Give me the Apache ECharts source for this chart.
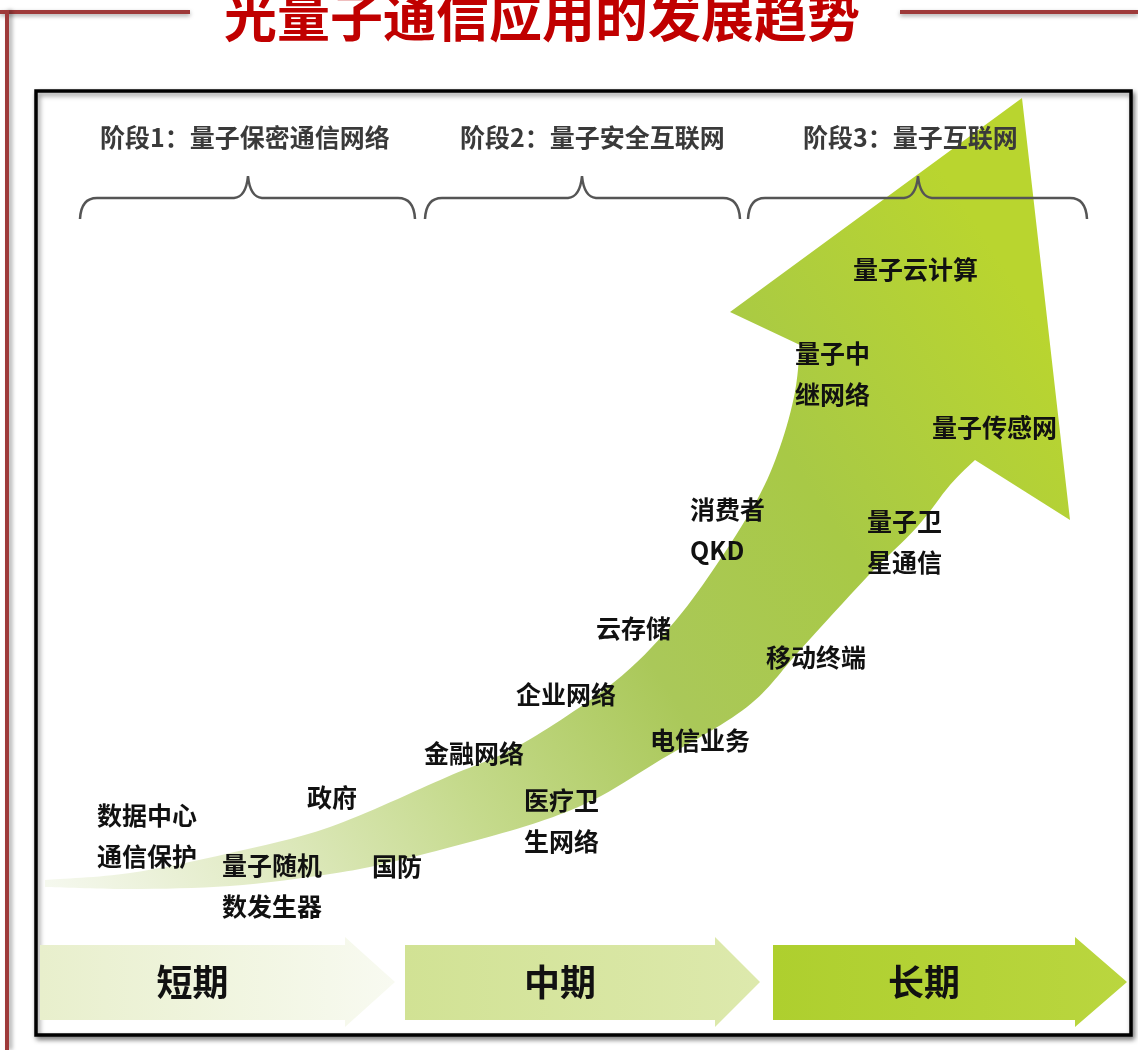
<!DOCTYPE html>
<html>
<head>
<meta charset="utf-8">
<title>光量子通信应用的发展趋势</title>
<script src="https://cdn.jsdelivr.net/npm/echarts@6/dist/echarts.min.js"></script>
<style>
  html, body { margin: 0; padding: 0; background: #fff; }
  #chart { width: 1138px; height: 1050px; }
</style>
</head>
<body>
<div id="chart"></div>
<script>
// 光量子通信应用的发展趋势
// 坐标轴按画面读数：x 向右，y 向下（反向 y 轴）

// 阶段标题与大括号
const stageNames = ['阶段1：量子保密通信网络', '阶段2：量子安全互联网', '阶段3：量子互联网']
const stageX = [100, 460, 803]
const stageY = [137, 137, 137]
const braceLeft = [80, 425, 748]
const bracePeak = [248, 582, 918]
const braceRight = [415, 740, 1087]

// 底部时间箭头
const periodNames = ['短期', '中期', '长期']
const periodStart = [40, 405, 773]
const periodBodyEnd = [345, 715, 1075]
const periodTip = [395, 760, 1127]

// 趋势箭头轮廓（上沿、箭头、下沿）
const shaftUpper = [[45, 880], [130, 873], [230, 853], [330, 827], [447, 777], [520, 745], [613, 683],
  [670, 627], [713, 570], [757, 500], [780, 447], [795, 392], [800, 345]]
const arrowHead = [[800, 345], [730, 312], [1022, 98], [1070, 520], [975, 460]]
const shaftLower = [[45, 887], [130, 889], [230, 886], [330, 874], [400, 860], [523, 827], [593, 800],
  [657, 762], [747, 707], [800, 650], [867, 577], [917, 527], [950, 485], [975, 460]]

// 应用场景标签（左端 x，中心 y）
const appNames = ['数据中心\n通信保护', '政府', '量子随机\n数发生器', '国防', '金融网络', '医疗卫\n生网络',
  '企业网络', '电信业务', '云存储', '移动终端', '消费者\nQKD', '量子卫\n星通信', '量子中\n继网络',
  '量子传感网', '量子云计算']
const appX = [97, 307, 222, 372, 424, 524, 516, 650, 596, 766, 690, 867, 795, 932, 853]
const appY = [836, 797, 886, 866, 753, 821, 694, 740, 628, 657, 530, 542, 374, 427, 269]

const FONT = '"Noto Sans CJK SC", "Noto Sans", sans-serif'

// 折线点 -> 平滑三次贝塞尔路径
function smoothPath(pts, first) {
  let d = (first ? 'M' : 'L') + pts[0][0] + ' ' + pts[0][1]
  for (let i = 0; i < pts.length - 1; i++) {
    const p0 = pts[i - 1] || pts[i]
    const p1 = pts[i]
    const p2 = pts[i + 1]
    const p3 = pts[i + 2] || p2
    const c1 = [p1[0] + (p2[0] - p0[0]) / 6, p1[1] + (p2[1] - p0[1]) / 6]
    const c2 = [p2[0] - (p3[0] - p1[0]) / 6, p2[1] - (p3[1] - p1[1]) / 6]
    d += ' C' + c1[0] + ' ' + c1[1] + ' ' + c2[0] + ' ' + c2[1] + ' ' + p2[0] + ' ' + p2[1]
  }
  return d
}

const periodColors = [
  ['#e8efcc', '#f8faf1'],
  ['#d1e294', '#dde9ad'],
  ['#aecf2e', '#bad63f']
]

const chart = echarts.init(document.getElementById('chart'))

chart.setOption({
  backgroundColor: '#fff',
  animation: false,
  grid: { left: 0, top: 0, right: 0, bottom: 0 },
  xAxis: { type: 'value', min: 0, max: 1138, show: false },
  yAxis: { type: 'value', min: 0, max: 1050, inverse: true, show: false },
  graphic: [
    // 外框红线
    {
      type: 'line', z: 0,
      shape: { x1: 0, y1: 12, x2: 190, y2: 12 },
      style: { stroke: '#9e3a3a', lineWidth: 4, shadowBlur: 4, shadowColor: 'rgba(0,0,0,0.35)', shadowOffsetY: 2 }
    },
    {
      type: 'line', z: 0,
      shape: { x1: 900, y1: 12, x2: 1138, y2: 12 },
      style: { stroke: '#9e3a3a', lineWidth: 4, shadowBlur: 4, shadowColor: 'rgba(0,0,0,0.35)', shadowOffsetY: 2 }
    },
    {
      type: 'line', z: 0,
      shape: { x1: 7, y1: 10, x2: 7, y2: 1050 },
      style: { stroke: '#9e3a3a', lineWidth: 4, shadowBlur: 4, shadowColor: 'rgba(0,0,0,0.35)', shadowOffsetX: 3 }
    },
    // 内框
    {
      type: 'rect', z: 0,
      shape: { x: 36, y: 91, width: 1095, height: 944 },
      style: {
        fill: '#fff', stroke: '#000', lineWidth: 3.5,
        shadowBlur: 5, shadowColor: 'rgba(0,0,0,0.45)', shadowOffsetX: 2, shadowOffsetY: 3
      }
    },
    // 标题
    {
      type: 'text', z: 1,
      x: 542, y: 17,
      style: {
        text: '光量子通信应用的发展趋势',
        fill: '#c00000',
        font: 'bold 53px ' + FONT,
        align: 'center', verticalAlign: 'middle',
        textAlign: 'center', textVerticalAlign: 'middle',
        shadowBlur: 2, shadowColor: 'rgba(90,0,0,0.4)', shadowOffsetX: 1, shadowOffsetY: 1
      }
    }
  ],
  series: [
    {
      // 趋势大箭头
      name: '发展趋势',
      type: 'custom',
      z: 1,
      data: [shaftUpper[0]],
      renderItem(params, api) {
        const up = shaftUpper.map(p => api.coord(p))
        const head = arrowHead.map(p => api.coord(p))
        const low = shaftLower.map(p => api.coord(p)).reverse()
        let d = smoothPath(up, true)
        head.forEach(p => { d += ' L' + p[0] + ' ' + p[1] })
        d += ' ' + smoothPath(low, false) + ' Z'
        const g0 = api.coord(shaftUpper[0])
        const g1 = api.coord([1000, 260])
        return {
          type: 'path',
          shape: { pathData: d },
          style: {
            fill: new echarts.graphic.LinearGradient(g0[0], g0[1], g1[0], g1[1], [
              { offset: 0, color: '#f5f8ee' },
              { offset: 0.15, color: '#e3ecc8' },
              { offset: 0.35, color: '#c5da8c' },
              { offset: 0.55, color: '#aac859' },
              { offset: 0.75, color: '#a8c946' },
              { offset: 1, color: '#b9d52f' }
            ], true),
            stroke: null
          }
        }
      }
    },
    {
      // 底部短期/中期/长期箭头
      name: '时期',
      type: 'custom',
      z: 2,
      data: periodNames.map((n, i) => [periodStart[i], periodBodyEnd[i], periodTip[i], i]),
      renderItem(params, api) {
        const x0 = api.value(0), x1 = api.value(1), xt = api.value(2), i = api.value(3)
        const pts = [[x0, 945], [x1, 945], [x1, 937], [xt, 982], [x1, 1027], [x1, 1020], [x0, 1020]]
          .map(p => api.coord(p))
        const a = api.coord([x0, 982]), b = api.coord([xt, 982])
        const c = api.coord([(x0 + x1) / 2, 982])
        return {
          type: 'group',
          children: [
            {
              type: 'polygon',
              shape: { points: pts },
              style: {
                fill: new echarts.graphic.LinearGradient(a[0], a[1], b[0], b[1], [
                  { offset: 0, color: periodColors[i][0] },
                  { offset: 1, color: periodColors[i][1] }
                ], true)
              }
            },
            {
              type: 'text',
              x: c[0], y: c[1],
              style: {
                text: periodNames[i],
                fill: '#111',
                font: 'bold 36px ' + FONT,
                align: 'center', verticalAlign: 'middle',
                textAlign: 'center', textVerticalAlign: 'middle'
              }
            }
          ]
        }
      }
    },
    {
      // 阶段大括号
      name: '阶段范围',
      type: 'custom',
      z: 3,
      data: braceLeft.map((x, i) => [x, bracePeak[i], braceRight[i]]),
      renderItem(params, api) {
        const x0 = api.value(0), xp = api.value(1), x1 = api.value(2)
        const P = (x, y) => api.coord([x, y]).join(' ')
        const d = 'M' + P(x0, 219) +
          ' Q' + P(x0 + 1, 198) + ' ' + P(x0 + 17, 198) +
          ' L' + P(xp - 14, 198) +
          ' Q' + P(xp - 2, 197) + ' ' + P(xp, 176) +
          ' Q' + P(xp + 2, 197) + ' ' + P(xp + 14, 198) +
          ' L' + P(x1 - 17, 198) +
          ' Q' + P(x1 - 1, 198) + ' ' + P(x1, 219)
        return {
          type: 'path',
          shape: { pathData: d },
          style: { fill: null, stroke: '#555', lineWidth: 2.5 }
        }
      }
    },
    {
      name: '阶段',
      type: 'scatter',
      z: 4,
      symbolSize: 0,
      itemStyle: { opacity: 1 },
      data: stageNames.map((n, i) => [stageX[i], stageY[i], n]),
      label: {
        show: true,
        position: 'right',
        distance: 0,
        formatter: p => p.data[2],
        color: '#3a3a3a',
        fontSize: 25,
        fontWeight: 'bold',
        fontFamily: FONT
      }
    },
    {
      name: '应用',
      type: 'scatter',
      z: 5,
      symbolSize: 0,
      itemStyle: { opacity: 1 },
      data: appNames.map((n, i) => [appX[i], appY[i], n]),
      label: {
        show: true,
        position: 'right',
        distance: 0,
        formatter: p => p.data[2],
        color: '#111',
        fontSize: 25,
        fontWeight: 'bold',
        fontFamily: FONT,
        lineHeight: 41
      }
    }
  ]
})
</script>
</body>
</html>
